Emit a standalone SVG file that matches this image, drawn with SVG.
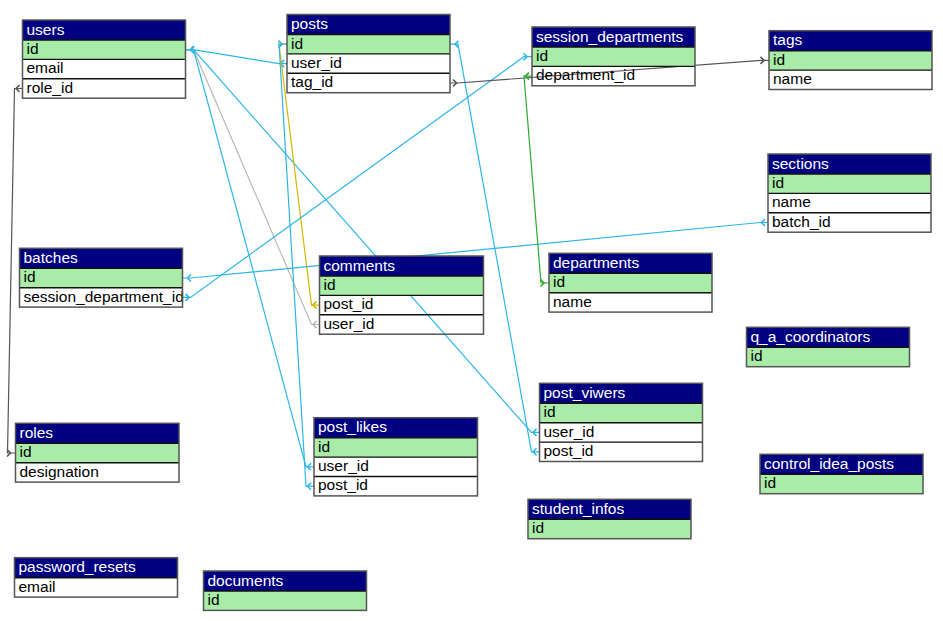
<svg xmlns="http://www.w3.org/2000/svg" width="943" height="621" viewBox="0 0 943 621">
<style>
text{font-family:"Liberation Sans",Arial,sans-serif;font-size:15.5px;fill:#000}
.hd{fill:#000080}
.hd-t{fill:#fff}
.pk{fill:#a8eca8}
.box{fill:none;stroke:#555;stroke-width:1.5}
.sep{stroke:#111;stroke-width:1.4}
.c{fill:none;stroke-width:1.2}
.cy{stroke:#2bb6ea}
.lg{stroke:#b8b8b8}
.dg{stroke:#555}
.ye{stroke:#d6b600}
.gr{stroke:#2fa82f}
</style>
<defs>
<marker id="s-cy" markerUnits="userSpaceOnUse" markerWidth="20" markerHeight="20" viewBox="-10 -10 20 20" refX="0" refY="0" orient="auto" overflow="visible"><path d="M3,-3.5 L6.5,0 L3,3.5" fill="none" stroke="#2bb6ea" stroke-width="1.6"/></marker>
<marker id="e-cy" markerUnits="userSpaceOnUse" markerWidth="20" markerHeight="20" viewBox="-10 -10 20 20" refX="0" refY="0" orient="auto" overflow="visible"><path d="M-8.5,-3.5 L-5,0 L-8.5,3.5" fill="none" stroke="#2bb6ea" stroke-width="1.6"/></marker>
<marker id="s-lg" markerUnits="userSpaceOnUse" markerWidth="20" markerHeight="20" viewBox="-10 -10 20 20" refX="0" refY="0" orient="auto" overflow="visible"><path d="M3,-3.5 L6.5,0 L3,3.5" fill="none" stroke="#b8b8b8" stroke-width="1.6"/></marker>
<marker id="e-lg" markerUnits="userSpaceOnUse" markerWidth="20" markerHeight="20" viewBox="-10 -10 20 20" refX="0" refY="0" orient="auto" overflow="visible"><path d="M-8.5,-3.5 L-5,0 L-8.5,3.5" fill="none" stroke="#b8b8b8" stroke-width="1.6"/></marker>
<marker id="s-dg" markerUnits="userSpaceOnUse" markerWidth="20" markerHeight="20" viewBox="-10 -10 20 20" refX="0" refY="0" orient="auto" overflow="visible"><path d="M3,-3.5 L6.5,0 L3,3.5" fill="none" stroke="#555" stroke-width="1.6"/></marker>
<marker id="e-dg" markerUnits="userSpaceOnUse" markerWidth="20" markerHeight="20" viewBox="-10 -10 20 20" refX="0" refY="0" orient="auto" overflow="visible"><path d="M-8.5,-3.5 L-5,0 L-8.5,3.5" fill="none" stroke="#555" stroke-width="1.6"/></marker>
<marker id="s-ye" markerUnits="userSpaceOnUse" markerWidth="20" markerHeight="20" viewBox="-10 -10 20 20" refX="0" refY="0" orient="auto" overflow="visible"><path d="M3,-3.5 L6.5,0 L3,3.5" fill="none" stroke="#d6b600" stroke-width="1.6"/></marker>
<marker id="e-ye" markerUnits="userSpaceOnUse" markerWidth="20" markerHeight="20" viewBox="-10 -10 20 20" refX="0" refY="0" orient="auto" overflow="visible"><path d="M-8.5,-3.5 L-5,0 L-8.5,3.5" fill="none" stroke="#d6b600" stroke-width="1.6"/></marker>
<marker id="s-gr" markerUnits="userSpaceOnUse" markerWidth="20" markerHeight="20" viewBox="-10 -10 20 20" refX="0" refY="0" orient="auto" overflow="visible"><path d="M3,-3.5 L6.5,0 L3,3.5" fill="none" stroke="#2fa82f" stroke-width="1.6"/></marker>
<marker id="e-gr" markerUnits="userSpaceOnUse" markerWidth="20" markerHeight="20" viewBox="-10 -10 20 20" refX="0" refY="0" orient="auto" overflow="visible"><path d="M-8.5,-3.5 L-5,0 L-8.5,3.5" fill="none" stroke="#2fa82f" stroke-width="1.6"/></marker>
</defs>
<rect width="943" height="621" fill="#fff"/>
<g id="connectors">
<path class="c cy" marker-start="url(#s-cy)" marker-end="url(#e-cy)" d="M287,63.6 H279 L193.5,49.7 H185.5"/>
<path class="c lg" marker-start="url(#s-lg)" marker-end="url(#e-lg)" d="M319.5,324.5 H311.5 L193.5,49.7 H185.5"/>
<path class="c cy" marker-start="url(#s-cy)" marker-end="url(#e-cy)" d="M314,466.8 H306 L193.5,49.7 H185.5"/>
<path class="c cy" marker-start="url(#s-cy)" marker-end="url(#e-cy)" d="M539.5,432.4 H531.5 L193.5,49.7 H185.5"/>
<path class="c ye" marker-start="url(#s-ye)" marker-end="url(#e-ye)" d="M319.5,305.1 H311.5 L279,44.2 H287"/>
<path class="c cy" marker-start="url(#s-cy)" marker-end="url(#e-cy)" d="M314,486.2 H306 L279,44.2 H287"/>
<path class="c cy" marker-start="url(#s-cy)" marker-end="url(#e-cy)" d="M539.5,451.8 H531.5 L458,44.2 H450"/>
<path class="c cy" marker-start="url(#s-cy)" marker-end="url(#e-cy)" d="M182.5,297.4 H190.5 L524,56.7 H532"/>
<path class="c cy" marker-start="url(#s-cy)" marker-end="url(#e-cy)" d="M768,222.5 H760 L190.5,278 H182.5"/>
<path class="c dg" marker-start="url(#s-dg)" marker-end="url(#e-dg)" d="M450,83 H458 L761,60.4 H769"/>
<path class="c gr" marker-start="url(#s-gr)" marker-end="url(#e-gr)" d="M532,76.1 H524 L541,283 H549"/>
<path class="c dg" marker-start="url(#s-dg)" marker-end="url(#e-dg)" d="M22.5,88.5 H14.5 L7.5,453 H15.5"/>
</g>
<g id="users" transform="translate(22.5,20)">
<rect class="hd" width="163" height="20"/><rect class="pk" y="20" width="163" height="19.4"/>
<text class="hd-t" x="4" y="14.5">users</text><text x="4" y="34">id</text><text x="4" y="53.4">email</text><text x="4" y="72.8">role_id</text>
<path class="sep" d="M0,20H163M0,39.4H163M0,58.8H163"/><rect class="box" width="163" height="78.2"/>
</g>
<g id="posts" transform="translate(287,14.5)">
<rect class="hd" width="163" height="20"/><rect class="pk" y="20" width="163" height="19.4"/>
<text class="hd-t" x="4" y="14.5">posts</text><text x="4" y="34">id</text><text x="4" y="53.4">user_id</text><text x="4" y="72.8">tag_id</text>
<path class="sep" d="M0,20H163M0,39.4H163M0,58.8H163"/><rect class="box" width="163" height="78.2"/>
</g>
<g id="session_departments" transform="translate(532,27)">
<rect class="hd" width="163" height="20"/><rect class="pk" y="20" width="163" height="19.4"/>
<text class="hd-t" x="4" y="14.5">session_departments</text><text x="4" y="34">id</text><text x="4" y="53.4">department_id</text>
<path class="sep" d="M0,20H163M0,39.4H163"/><rect class="box" width="163" height="58.8"/>
</g>
<g id="tags" transform="translate(769,30.7)">
<rect class="hd" width="163" height="20"/><rect class="pk" y="20" width="163" height="19.4"/>
<text class="hd-t" x="4" y="14.5">tags</text><text x="4" y="34">id</text><text x="4" y="53.4">name</text>
<path class="sep" d="M0,20H163M0,39.4H163"/><rect class="box" width="163" height="58.8"/>
</g>
<g id="sections" transform="translate(768,154)">
<rect class="hd" width="163" height="20"/><rect class="pk" y="20" width="163" height="19.4"/>
<text class="hd-t" x="4" y="14.5">sections</text><text x="4" y="34">id</text><text x="4" y="53.4">name</text><text x="4" y="72.8">batch_id</text>
<path class="sep" d="M0,20H163M0,39.4H163M0,58.8H163"/><rect class="box" width="163" height="78.2"/>
</g>
<g id="batches" transform="translate(19.5,248.3)">
<rect class="hd" width="163" height="20"/><rect class="pk" y="20" width="163" height="19.4"/>
<text class="hd-t" x="4" y="14.5">batches</text><text x="4" y="34">id</text><text x="4" y="53.4">session_department_id</text>
<path class="sep" d="M0,20H163M0,39.4H163"/><rect class="box" width="163" height="58.8"/>
</g>
<g id="comments" transform="translate(319.5,256)">
<rect class="hd" width="164" height="20"/><rect class="pk" y="20" width="164" height="19.4"/>
<text class="hd-t" x="4" y="14.5">comments</text><text x="4" y="34">id</text><text x="4" y="53.4">post_id</text><text x="4" y="72.8">user_id</text>
<path class="sep" d="M0,20H164M0,39.4H164M0,58.8H164"/><rect class="box" width="164" height="78.2"/>
</g>
<g id="departments" transform="translate(549,253.3)">
<rect class="hd" width="163" height="20"/><rect class="pk" y="20" width="163" height="19.4"/>
<text class="hd-t" x="4" y="14.5">departments</text><text x="4" y="34">id</text><text x="4" y="53.4">name</text>
<path class="sep" d="M0,20H163M0,39.4H163"/><rect class="box" width="163" height="58.8"/>
</g>
<g id="q_a_coordinators" transform="translate(746.5,327.3)">
<rect class="hd" width="163" height="20"/><rect class="pk" y="20" width="163" height="19.4"/>
<text class="hd-t" x="4" y="14.5">q_a_coordinators</text><text x="4" y="34">id</text>
<path class="sep" d="M0,20H163"/><rect class="box" width="163" height="39.4"/>
</g>
<g id="post_viwers" transform="translate(539.5,383.3)">
<rect class="hd" width="163" height="20"/><rect class="pk" y="20" width="163" height="19.4"/>
<text class="hd-t" x="4" y="14.5">post_viwers</text><text x="4" y="34">id</text><text x="4" y="53.4">user_id</text><text x="4" y="72.8">post_id</text>
<path class="sep" d="M0,20H163M0,39.4H163M0,58.8H163"/><rect class="box" width="163" height="78.2"/>
</g>
<g id="roles" transform="translate(15.5,423.3)">
<rect class="hd" width="163.5" height="20"/><rect class="pk" y="20" width="163.5" height="19.4"/>
<text class="hd-t" x="4" y="14.5">roles</text><text x="4" y="34">id</text><text x="4" y="53.4">designation</text>
<path class="sep" d="M0,20H163.5M0,39.4H163.5"/><rect class="box" width="163.5" height="58.8"/>
</g>
<g id="post_likes" transform="translate(314,417.7)">
<rect class="hd" width="163.5" height="20"/><rect class="pk" y="20" width="163.5" height="19.4"/>
<text class="hd-t" x="4" y="14.5">post_likes</text><text x="4" y="34">id</text><text x="4" y="53.4">user_id</text><text x="4" y="72.8">post_id</text>
<path class="sep" d="M0,20H163.5M0,39.4H163.5M0,58.8H163.5"/><rect class="box" width="163.5" height="78.2"/>
</g>
<g id="control_idea_posts" transform="translate(760,454.3)">
<rect class="hd" width="163" height="20"/><rect class="pk" y="20" width="163" height="19.4"/>
<text class="hd-t" x="4" y="14.5">control_idea_posts</text><text x="4" y="34">id</text>
<path class="sep" d="M0,20H163"/><rect class="box" width="163" height="39.4"/>
</g>
<g id="student_infos" transform="translate(528,499.3)">
<rect class="hd" width="163" height="20"/><rect class="pk" y="20" width="163" height="19.4"/>
<text class="hd-t" x="4" y="14.5">student_infos</text><text x="4" y="34">id</text>
<path class="sep" d="M0,20H163"/><rect class="box" width="163" height="39.4"/>
</g>
<g id="password_resets" transform="translate(14.5,557.7)">
<rect class="hd" width="163" height="20"/>
<text class="hd-t" x="4" y="14.5">password_resets</text><text x="4" y="34">email</text>
<path class="sep" d="M0,20H163"/><rect class="box" width="163" height="39.4"/>
</g>
<g id="documents" transform="translate(203.5,571)">
<rect class="hd" width="163" height="20"/><rect class="pk" y="20" width="163" height="19.4"/>
<text class="hd-t" x="4" y="14.5">documents</text><text x="4" y="34">id</text>
<path class="sep" d="M0,20H163"/><rect class="box" width="163" height="39.4"/>
</g>
</svg>
